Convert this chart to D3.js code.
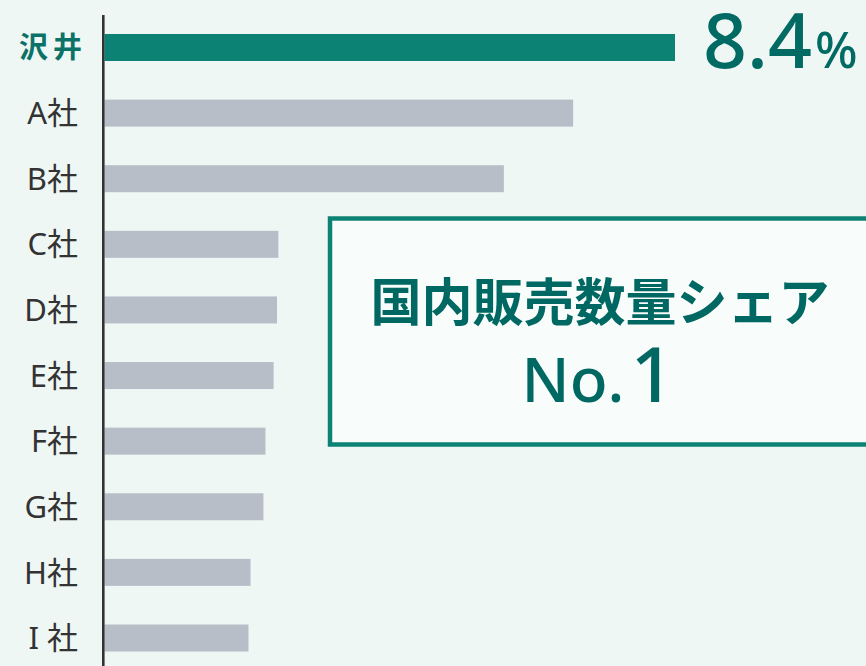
<!DOCTYPE html>
<html><head><meta charset="utf-8">
<script src="https://cdn.jsdelivr.net/npm/d3@7"></script>
<style>html,body{margin:0;padding:0;background:#eff7f5;}svg{display:block;}</style>
</head><body>
<script>
const categories = ["沢井","A社","B社","C社","D社","E社","F社","G社","H社","I 社"];
const shares = [8.4, 6.9, 5.88, 2.56, 2.54, 2.49, 2.37, 2.34, 2.15, 2.12];
const topLabel = "8.4";
const topUnit = "%";
const boxTitle = "国内販売数量シェア";
const boxSub = ["No.", "1"];

const W = 866, H = 666;
const svg = d3.select("body").append("svg").attr("width", W).attr("height", H);
svg.append("rect").attr("width", W).attr("height", H).attr("fill", "#eff7f5");

const x = d3.scaleLinear().domain([0, 8.4]).range([104.5, 675]);
const y = d3.scalePoint().domain(categories).range([47.5, 638]);
const barH = 27;
const font = "'Noto Sans','Noto Sans CJK JP',sans-serif";

svg.append("g").selectAll("rect").data(categories).join("rect")
  .attr("x", x(0))
  .attr("y", d => y(d) - barH / 2)
  .attr("width", (d, i) => x(shares[i]) - x(0))
  .attr("height", barH)
  .attr("fill", (d, i) => i === 0 ? "#0c8275" : "#b8bec8");

// axis line
svg.append("line").attr("x1", 103.3).attr("x2", 103.3).attr("y1", 15).attr("y2", H)
  .attr("stroke", "#333333").attr("stroke-width", 2.6);

// category labels
svg.append("g").selectAll("text").data(categories).join("text")
  .attr("x", (d, i) => i === 0 ? 87 : 78)
  .attr("y", d => y(d))
  .attr("dy", "0.36em")
  .attr("text-anchor", "end")
  .attr("font-family", font)
  .attr("font-size", (d, i) => i === 0 ? 29 : 31)
  .attr("font-weight", (d, i) => i === 0 ? 600 : 400)
  .attr("letter-spacing", (d, i) => i === 0 ? "5px" : "0px")
  .attr("fill", (d, i) => i === 0 ? "#0c7268" : "#333333")
  .text(d => d);

// value label for top
const vl = svg.append("text")
  .attr("x", 703).attr("y", y(categories[0]) + 20)
  .attr("font-family", "'Noto Sans',sans-serif")
  .attr("fill", "#006a63");
vl.append("tspan").attr("font-size", 77).attr("font-weight", 500).text(topLabel);
vl.append("tspan").attr("font-size", 50).attr("font-weight", 500).attr("dx", 3).text(topUnit);

// box
svg.append("rect").attr("x", 330).attr("y", 218.5).attr("width", 560).attr("height", 226)
  .attr("fill", "#f8fcfb").attr("stroke", "#0c8275").attr("stroke-width", 4.5);

svg.append("text").attr("x", 600).attr("y", 321)
  .attr("text-anchor", "middle")
  .attr("font-family", "'Noto Sans CJK JP',sans-serif").attr("font-size", 51).attr("font-weight", 700)
  .attr("fill", "#006862").text(boxTitle);

const nt = svg.append("text").attr("x", 598).attr("y", 402)
  .attr("text-anchor", "middle")
  .attr("font-family", "'Noto Sans',sans-serif").attr("font-weight", 500)
  .attr("fill", "#006862");
nt.append("tspan").attr("font-size", 62).text(boxSub[0]);
nt.append("tspan").attr("font-size", 77).attr("dx", 6).text(boxSub[1]);
</script>
</body></html>
